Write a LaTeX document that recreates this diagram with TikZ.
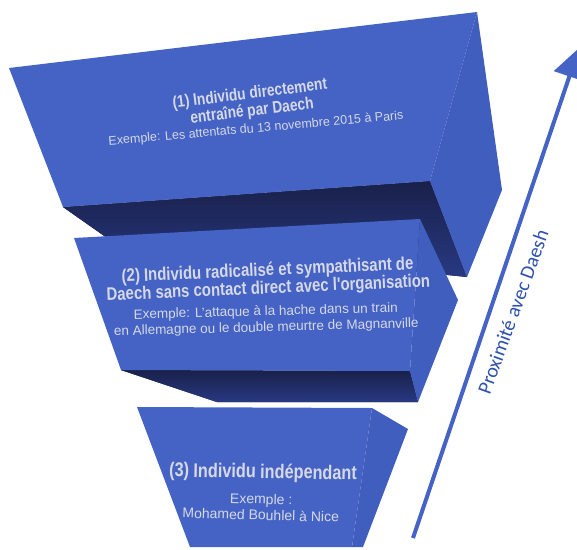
\documentclass[tikz,border=0pt]{standalone}
\usepackage{fontspec}
\setmainfont{Liberation Sans}
\newfontfamily\condfont[FakeStretch=0.82]{Liberation Sans}
\newfontfamily\axisfont{Carlito}
\usetikzlibrary{arrows.meta}
\definecolor{frontblue}{RGB}{68,99,196}
\definecolor{sideblue}{RGB}{64,94,189}
\definecolor{darkblue}{RGB}{25,32,74}
\definecolor{shadeblue}{RGB}{40,57,130}
\definecolor{textgrey}{RGB}{214,216,228}
\definecolor{axisblue}{RGB}{46,80,174}

\begin{document}
\begin{tikzpicture}[x=1pt,y=-1pt,
  front/.style={fill=frontblue},
  side/.style={fill=sideblue},
  under/.style={top color=darkblue,bottom color=shadeblue},
  title/.style={text=textgrey,align=center,inner sep=0pt,
    font=\condfont\bfseries\fontsize{#1}{15.5}\selectfont},
  example/.style={text=textgrey,align=center,inner sep=0pt,
    font=\fontsize{#1}{16}\selectfont}]
\useasboundingbox (0,0) rectangle (577,549);

\fill[under] (63,207) -- (430,181) -- (467,277) -- (110,240) -- cycle;
\fill[front] (9,68) -- (477,12) -- (430,181) -- (63,207) -- cycle;
\fill[side] (477,12) -- (502,190) -- (467,277) -- (430,181) -- cycle;

\fill[under] (121,370) -- (410,371) -- (418,402) -- (217,402) -- cycle;
\fill[front] (74,238) -- (420,219) -- (410,371) -- (121,370) -- cycle;
\fill[side] (420,219) -- (458,300) -- (418,402) -- (410,371) -- cycle;

\fill[front] (137,407) -- (372,408) -- (352,547) -- (190,547) -- cycle;
\fill[side] (372,408) -- (408,429) -- (363,547) -- (352,547) -- cycle;

\node[title=16.8, rotate=7] (title1) at (251,103) {(1) Individu directement\\entraîné par Daech};
\node[example=12.5, rotate=5] (example1) at (256,129) {Exemple: Les attentats du 13 novembre 2015 à Paris};

\node[title=18.2, rotate=2.5] (title2) at (268,280) {(2) Individu radicalisé et sympathisant de\\Daech sans contact direct avec l'organisation};
\node[example=13.5, rotate=1.5] (example2) at (266,320) {Exemple: L'attaque à la hache dans un train\\en Allemagne ou le double meurtre de Magnanville};

\node[title=19.8, rotate=-1] (title3) at (263,473) {(3) Individu indépendant};
\node[example=14, rotate=-1.5] (example3) at (261,507) {Exemple :\\Mohamed Bouhlel à Nice};

\coordinate (tail) at (413,538);
\coordinate (tip) at (579,48);
\draw[frontblue, line width=4pt, -{Triangle[length=30pt,width=32pt]}] (tail) -- (tip);
\node[text=axisblue, rotate=70, font=\axisfont\fontsize{20}{24}\selectfont] (proximite) at (513,312) {Proximité avec Daesh};
\end{tikzpicture}
\end{document}
